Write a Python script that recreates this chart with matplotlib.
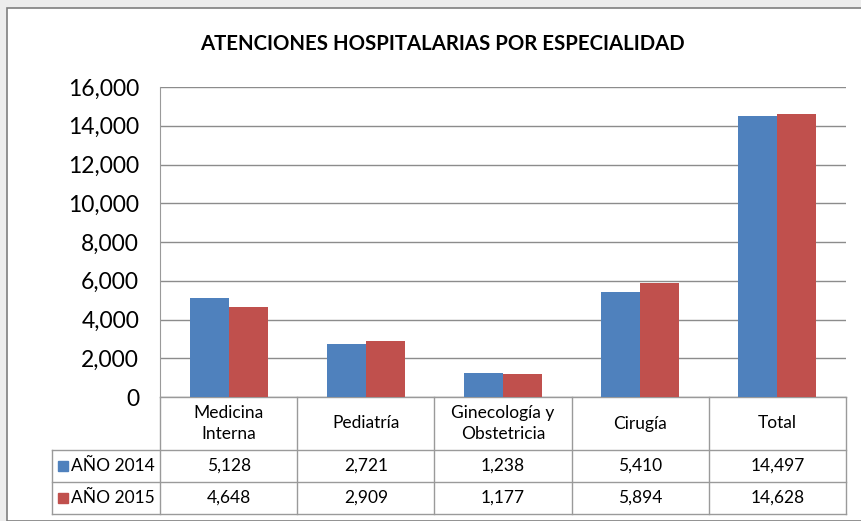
import numpy as np
import matplotlib.pyplot as plt
from matplotlib.patches import Rectangle

categorias = ["Medicina\nInterna", "Pediatría", "Ginecología y\nObstetricia", "Cirugía", "Total"]
series = ["AÑO 2014", "AÑO 2015"]
anio_2014 = [5128, 2721, 1238, 5410, 14497]
anio_2015 = [4648, 2909, 1177, 5894, 14628]
yticks = np.arange(0, 16001, 2000)

azul = "#4F81BD"
rojo = "#C0504D"
gris = "#9A9A9A"

plt.rcParams["font.family"] = ["Lato", "DejaVu Sans"]

W, H = 862, 521
fig = plt.figure(figsize=(W / 100, H / 100), dpi=100, facecolor="#EDEDED")
fig.patches.append(Rectangle((7 / W, 0), 1, 1 - 8 / H, transform=fig.transFigure,
                             facecolor="white", edgecolor="#7F7F7F", lw=1.2, zorder=-10))

ax = fig.add_axes([160 / W, 1 - 397 / H, 686 / W, 310 / H])
ax.set_facecolor("none")
x = np.arange(len(categorias))
bw = 0.284
ax.bar(x - bw / 2, anio_2014, bw, color=azul, zorder=3)
ax.bar(x + bw / 2, anio_2015, bw, color=rojo, zorder=3)

ax.set_xlim(-0.5, len(categorias) - 0.5)
ax.set_ylim(0, 16000)
ax.set_yticks(yticks)
ax.set_yticklabels([f"{v:,}" for v in yticks], fontsize=16.5)
ax.tick_params(axis="y", length=0, pad=15)
ax.set_xticks([])
ax.grid(axis="y", color="#8C8C8C", lw=1, zorder=1)
for s in ["top", "right", "bottom"]:
    ax.spines[s].set_visible(False)
ax.spines["left"].set_color(gris)

# tabla de datos bajo el eje
tr = ax.get_xaxis_transform()
px = 310.0
y_head = -53 / px
y_r1 = -85 / px
y_r2 = -117 / px
x_lab = (52 - 160) / 137.2 - 0.5
x_end = len(categorias) - 0.5
kw = dict(transform=tr, clip_on=False, color=gris, lw=1)
ax.plot([-0.5, x_end], [0, 0], **kw)
for yy in [y_head, y_r1, y_r2]:
    ax.plot([x_lab, x_end], [yy, yy], **kw)
for xx in np.arange(-0.5, len(categorias), 1.0):
    ax.plot([xx, xx], [0, y_r2], **kw)
ax.plot([x_lab, x_lab], [y_head, y_r2], **kw)

fs = 12.5
for i, c in enumerate(categorias):
    ax.text(i, y_head / 2, c, transform=tr, ha="center", va="center",
            fontsize=fs, linespacing=1.45)
for yy0, yy1, vals, col, name in [(y_head, y_r1, anio_2014, azul, series[0]),
                                  (y_r1, y_r2, anio_2015, rojo, series[1])]:
    yc = (yy0 + yy1) / 2
    for i, v in enumerate(vals):
        ax.text(i, yc, f"{v:,}", transform=tr, ha="center", va="center", fontsize=fs)
    ax.plot([(63 - 160) / 137.2 - 0.5], [yc], marker="s", ms=7, color=col,
            transform=tr, clip_on=False)
    ax.text((71 - 160) / 137.2 - 0.5, yc, name, transform=tr, ha="left",
            va="center", fontsize=fs)

fig.text(442 / W, 1 - 44 / H, "ATENCIONES HOSPITALARIAS POR ESPECIALIDAD",
         ha="center", va="center", fontsize=14.7, fontweight="bold")

fig.savefig("out.png", dpi=100, facecolor=fig.get_facecolor())
